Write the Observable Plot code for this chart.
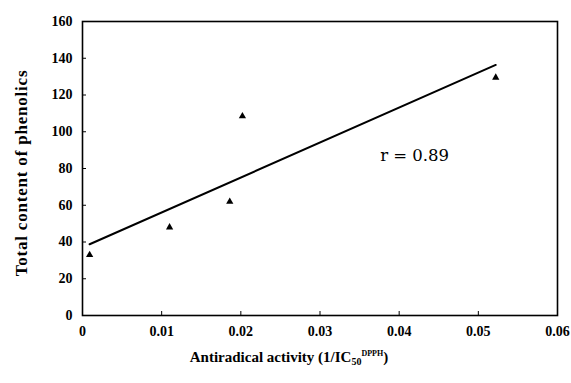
<!DOCTYPE html>
<html><head><meta charset="utf-8">
<script src="https://cdn.jsdelivr.net/npm/d3@7"></script>
<script src="https://cdn.jsdelivr.net/npm/@observablehq/plot@0.6"></script>
<style>body{margin:0;background:#fff}</style>
</head><body><div id="chart"></div>
<script>
const activity = [0.0009, 0.011, 0.0186, 0.0202, 0.0522];
const phenolics = [33, 48, 62, 108.5, 129.5];
const xTicks = [0, 0.01, 0.02, 0.03, 0.04, 0.05, 0.06];
const xTickLabels = ["0", "0.01", "0.02", "0.03", "0.04", "0.05", "0.06"];
const yTicks = [0, 20, 40, 60, 80, 100, 120, 140, 160];
const annotationText = ["r = 0.89"];
const annotationX = [0.0376];
const annotationY = [87];

const data = activity.map((x, i) => ({x, y: phenolics[i]}));
const notes = annotationText.map((t, i) => ({t, x: annotationX[i], y: annotationY[i]}));

const plot = Plot.plot({
  width: 571, height: 383,
  marginLeft: 82, marginRight: 14, marginTop: 21, marginBottom: 68,
  style: {fontFamily: "Liberation Serif", fontSize: "14px", fontWeight: "bold", color: "#000", background: "#fff"},
  x: {domain: [0, 0.06]},
  y: {domain: [0, 160]},
  marks: [
    Plot.frame({stroke: "#000", strokeWidth: 1.6}),
    Plot.axisX({ticks: xTicks, tickFormat: (d, i) => xTickLabels[i], tickSize: -4, tickPadding: 15, label: null}),
    Plot.axisY({ticks: yTicks, tickSize: -4, tickPadding: 14, label: null}),
    Plot.linearRegressionY(data, {x: "x", y: "y", stroke: "#000", strokeWidth: 2, ci: 0}),
    Plot.dot(data, {x: "x", y: "y", symbol: "triangle", r: 2.7, fill: "#000"}),
    Plot.text(notes, {x: "x", y: "y", text: "t", textAnchor: "start", fontSize: 16.5, fontWeight: "normal", fontFamily: "DejaVu Serif"})
  ]
});
document.getElementById("chart").append(plot);

const svg = d3.select(plot);
const xl = svg.append("text").attr("x", 289).attr("y", 362).attr("text-anchor", "middle")
  .style("font-family", "Liberation Serif").style("font-size", "15px").style("font-weight", "bold").attr("fill", "#000");
xl.append("tspan").text("Antiradical activity (1/IC");
xl.append("tspan").attr("dy", 3).style("font-size", "10px").text("50");
xl.append("tspan").attr("dy", -9).style("font-size", "8px").text("DPPH");
xl.append("tspan").attr("dy", 6).text(")");
svg.append("text").attr("transform", "translate(27,173) rotate(-90)").attr("text-anchor", "middle")
  .style("font-family", "Liberation Serif").style("font-size", "17px").style("font-weight", "bold")
  .style("letter-spacing", "0.8px").attr("fill", "#000")
  .text("Total content of phenolics");
</script>
</body></html>
